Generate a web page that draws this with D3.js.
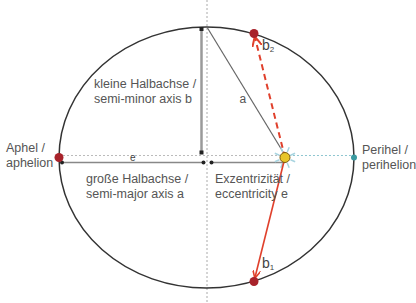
<!DOCTYPE html>
<html><head><meta charset="utf-8">
<script src="https://cdn.jsdelivr.net/npm/d3@7"></script>
<style>
html,body{margin:0;padding:0;background:#fff;}
svg{display:block;font-family:"Liberation Sans",Arial,sans-serif;}
</style></head>
<body>
<svg id="c" width="416" height="303"></svg>
<script>
// ---- data (orbit units) ----
const semiMajor = 5;          // a
const semiMinor = 4.42;       // b
const focusX = 2.66;          // focus distance from centre (e)
const orbitPoints = [
  {name: "aphelion",   x: -5,   y: 0,     color: "#a8232b"},
  {name: "b2",         x: 1.61, y: 4.2,   color: "#a8232b"},
  {name: "b1",         x: 1.61, y: -4.2,  color: "#a8232b"},
  {name: "perihelion", x: 5,    y: 0,     color: "#3a9aa0"}
];
const labelLines = [
  {key: "minor", lines: ["kleine Halbachse /", "semi-minor axis b"]},
  {key: "major", lines: ["große Halbachse /", "semi-major axis a"]},
  {key: "aph",   lines: ["Aphel /", "aphelion"]},
  {key: "peri",  lines: ["Perihel /", "perihelion"]},
  {key: "ecc",   lines: ["Exzentrizität /", "eccentricity e"]}
];

const svg = d3.select("#c");
const x = d3.scaleLinear().domain([-semiMajor, semiMajor]).range([59, 354]);
const y = d3.scaleLinear().domain([-semiMinor, semiMinor]).range([288, 27]);

// arrow markers
const defs = svg.append("defs");
defs.append("marker").attr("id","arr").attr("viewBox","0 0 10 10").attr("refX",9).attr("refY",5)
  .attr("markerWidth",5).attr("markerHeight",5).attr("orient","auto-start-reverse")
  .append("path").attr("d","M0,0 L10,5 L0,10").attr("fill","none").attr("stroke","#e0402c").attr("stroke-width",2);

// vertical dotted centre line
svg.append("line").attr("x1",x(0)+0.5).attr("x2",x(0)+0.5).attr("y1",0).attr("y2",303)
  .attr("stroke","#aaa").attr("stroke-width",1).attr("stroke-dasharray","2,2");
// horizontal dotted axis line
svg.append("line").attr("x1",x(-semiMajor)).attr("x2",x(focusX)).attr("y1",y(0)-2).attr("y2",y(0)-2)
  .attr("stroke","#bbb").attr("stroke-width",1).attr("stroke-dasharray","2,2");
svg.append("line").attr("x1",x(focusX)).attr("x2",x(semiMajor)).attr("y1",y(0)-2).attr("y2",y(0)-2)
  .attr("stroke","#8ec6d0").attr("stroke-width",1).attr("stroke-dasharray","2,2");

// ellipse
svg.append("ellipse").attr("cx",x(0)).attr("cy",y(0))
  .attr("rx",x(semiMajor)-x(0)).attr("ry",y(0)-y(semiMinor))
  .attr("fill","none").attr("stroke","#333").attr("stroke-width",1.5);

// semi-minor axis b
const bx = x(0)-5;
svg.append("line").attr("x1",bx).attr("x2",bx).attr("y1",y(semiMinor)+1).attr("y2",y(0)-4)
  .attr("stroke","#9a9a9a").attr("stroke-width",2.5);
[y(semiMinor)+2, y(0)-5].forEach(v=>svg.append("rect").attr("x",bx-2).attr("y",v-2).attr("width",4).attr("height",4).attr("fill","#222"));

// semi-major axis a
const ay = y(0)+5;
svg.append("line").attr("x1",x(-semiMajor)+3).attr("x2",x(0)-3).attr("y1",ay).attr("y2",ay)
  .attr("stroke","#888").attr("stroke-width",1.5);
svg.append("line").attr("x1",x(0)+5).attr("x2",x(focusX)).attr("y1",ay).attr("y2",ay)
  .attr("stroke","#888").attr("stroke-width",1.5);
[x(-semiMajor)+3, x(0)-3, x(0)+5].forEach(v=>svg.append("circle").attr("cx",v).attr("cy",ay).attr("r",2).attr("fill","#222"));
svg.append("text").attr("x",x(-2.5)).attr("y",y(0)+3).attr("font-size",10).attr("fill","#444")
  .attr("text-anchor","middle").text("e");

// line a (top of minor axis to focus)
svg.append("line").attr("x1",x(0)+1).attr("y1",y(semiMinor)+1).attr("x2",x(focusX)-1).attr("y2",y(0)-4)
  .attr("stroke","#666").attr("stroke-width",1.2);
svg.append("text").attr("x",x(1.12)).attr("y",y(1.85)).attr("font-size",12).attr("fill","#555").text("a");

// focus rays
const fx = x(focusX), fy = y(0);
d3.range(8).forEach(i=>{
  const ang = i*Math.PI/4 + Math.PI/8;
  svg.append("line").attr("x1",fx+6*Math.cos(ang)).attr("y1",fy+6*Math.sin(ang))
    .attr("x2",fx+11*Math.cos(ang)).attr("y2",fy+11*Math.sin(ang))
    .attr("stroke","#a8d4e0").attr("stroke-width",1.5);
});

// b vectors
const b2 = orbitPoints[1], b1 = orbitPoints[2];
svg.append("line").attr("x1",fx).attr("y1",fy).attr("x2",x(b2.x)+1).attr("y2",y(b2.y)+4)
  .attr("stroke","#e0402c").attr("stroke-width",2).attr("stroke-dasharray","6,4").attr("marker-end","url(#arr)");
svg.append("line").attr("x1",fx).attr("y1",fy).attr("x2",x(b1.x)+1).attr("y2",y(b1.y)-4)
  .attr("stroke","#e0402c").attr("stroke-width",1.6).attr("marker-end","url(#arr)");

// focus (sun)
svg.append("circle").attr("cx",fx).attr("cy",fy).attr("r",5).attr("fill","#e8c52a").attr("stroke","#7a5a10").attr("stroke-width",1);

// orbit points
svg.selectAll("circle.pt").data(orbitPoints).join("circle").attr("class","pt")
  .attr("cx",d=>x(d.x)).attr("cy",d=>y(d.y)).attr("r",d=>d.name==="perihelion"?3:4.5)
  .attr("fill",d=>d.color);

// b labels
function bLabel(px,py,sub){
  const t = svg.append("text").attr("x",px).attr("y",py).attr("font-size",14).attr("fill","#444");
  t.append("tspan").text("b");
  t.append("tspan").attr("font-size",8).attr("dy",2).text(sub);
}
bLabel(x(b2.x)+8, y(b2.y)+17, "2");
bLabel(x(b1.x)+8, y(b1.y)-14, "1");

// text labels
const pos = {
  minor: [94, 88], major: [86, 183], aph: [6, 152], peri: [362, 154], ecc: [215, 183]
};
labelLines.forEach(l=>{
  const t = svg.append("text").attr("font-size",12.5).attr("fill","#555");
  l.lines.forEach((s,i)=>t.append("tspan").attr("x",pos[l.key][0]).attr("y",pos[l.key][1]+i*14.5).text(s));
});
</script>
</body></html>
